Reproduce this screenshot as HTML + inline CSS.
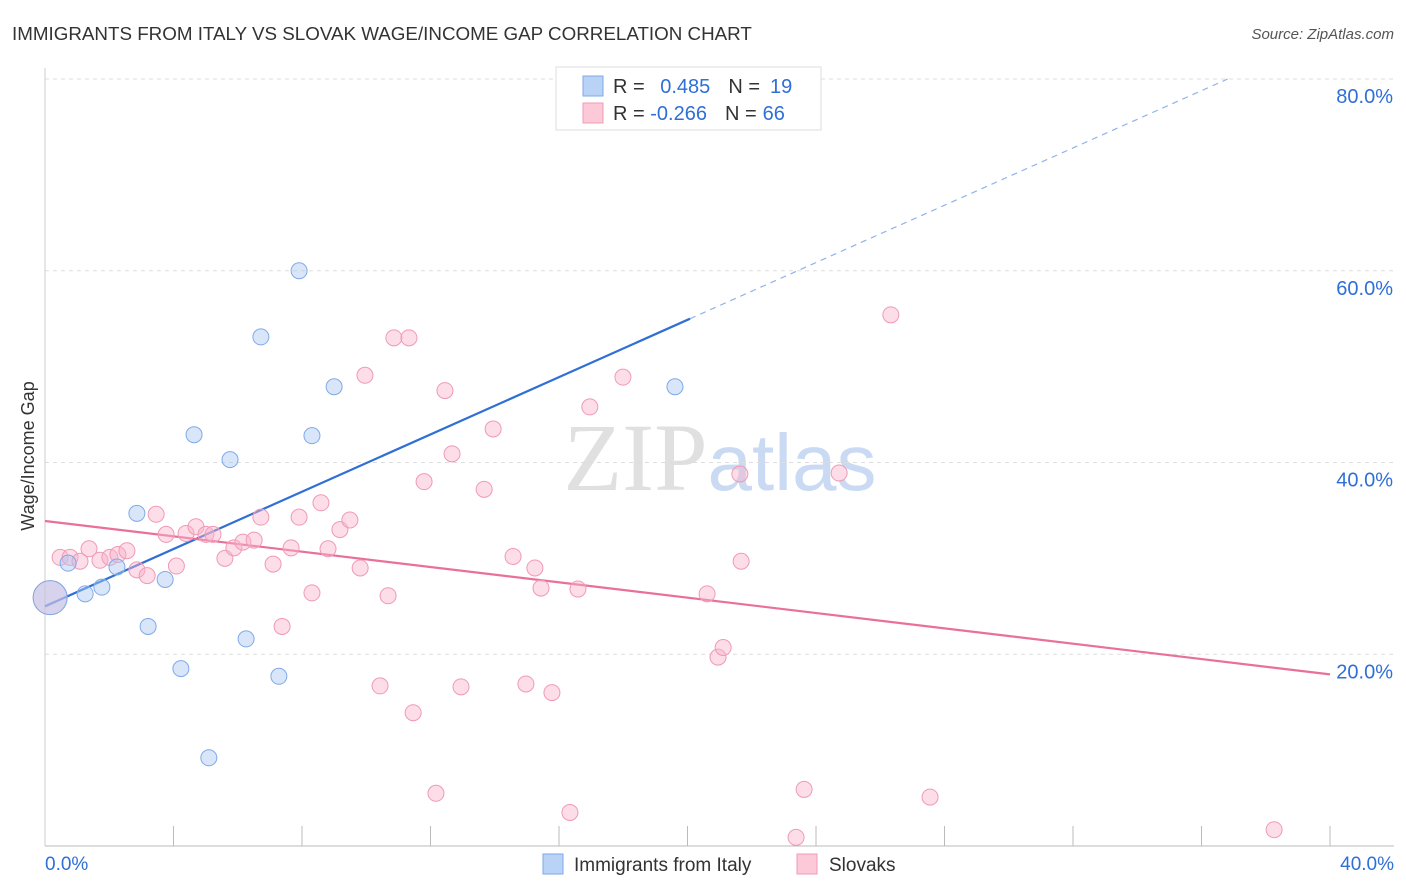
<!DOCTYPE html>
<html><head><meta charset="utf-8"><style>
body{margin:0;background:#fff;font-family:"Liberation Sans",sans-serif;}
svg{display:block}
</style></head><body>
<svg id="c" width="1406" height="892" xmlns="http://www.w3.org/2000/svg" font-family="Liberation Sans, sans-serif">
<text x="12" y="40" font-size="18.8" fill="#333">IMMIGRANTS FROM ITALY VS SLOVAK WAGE/INCOME GAP CORRELATION CHART</text>
<text x="1394" y="39" font-size="15" fill="#555" text-anchor="end" font-style="italic">Source: ZipAtlas.com</text>
<text x="720" y="490" font-size="96" text-anchor="middle"><tspan fill="#e0e0e0" font-family="Liberation Serif, serif">ZIP</tspan><tspan fill="#c9daf2" font-size="80">atlas</tspan></text>
<text transform="translate(34,456) rotate(-90)" font-size="18" fill="#333" text-anchor="middle">Wage/Income Gap</text>
<g id="grid"></g><g id="lines"></g><g id="pts"></g>
<g>
<rect x="556" y="67" width="265" height="63" fill="#fff" stroke="#ddd"/>
<rect x="583" y="76" width="20" height="20" fill="#b9d3f6" stroke="#7faae8"/>
<rect x="583" y="103" width="20" height="20" fill="#fbc9d8" stroke="#f09ab5"/>
<text x="613" y="93" font-size="20" fill="#333">R = <tspan fill="#2f6fd6" dx="10">0.485</tspan><tspan dx="18" fill="#333">N =</tspan><tspan dx="10" fill="#2f6fd6">19</tspan></text>
<text x="613" y="120" font-size="20" fill="#333">R = <tspan fill="#2f6fd6">-0.266</tspan><tspan dx="18" fill="#333">N =</tspan><tspan dx="6" fill="#2f6fd6">66</tspan></text>
</g>
<g>
<rect x="543" y="854" width="20" height="20" fill="#b9d3f6" stroke="#7faae8"/>
<text x="574" y="871" font-size="19" fill="#333">Immigrants from Italy</text>
<rect x="797" y="854" width="20" height="20" fill="#fbc9d8" stroke="#f09ab5"/>
<text x="829" y="871" font-size="19" fill="#333">Slovaks</text>
</g>
</svg>
<script>
const blueX=[0.16,0.72,1.25,1.77,2.24,2.86,3.21,3.74,4.23,4.64,5.10,5.76,6.26,6.72,7.28,7.91,8.31,9.00,19.61];
const blueY=[25.9,29.5,26.3,27.0,29.1,34.7,22.9,27.8,18.5,42.9,9.2,40.3,21.6,53.1,17.7,60.0,42.8,47.9,47.9];
const pinkX=[0.16,0.47,0.78,1.09,1.37,1.71,2.02,2.27,2.55,2.86,3.18,3.46,3.77,4.09,4.39,4.70,5.01,5.23,5.60,5.88,6.16,6.51,6.72,7.10,7.38,7.66,7.91,8.31,8.59,8.81,9.18,9.49,9.81,9.96,10.43,10.68,10.86,11.33,11.46,11.80,12.17,12.45,12.67,12.95,13.67,13.95,14.57,14.97,15.25,15.44,15.78,16.34,16.59,16.96,17.99,20.61,20.95,21.11,21.63,21.67,23.38,23.63,24.72,26.33,27.55,38.26];
const pinkY=[25.9,30.1,30.1,29.7,31.0,29.8,30.1,30.4,30.8,28.8,28.2,34.6,32.5,29.2,32.6,33.3,32.5,32.5,30.0,31.1,31.7,31.9,34.3,29.4,22.9,31.1,34.3,26.4,35.8,31.0,33.0,34.0,29.0,49.1,16.7,26.1,53.0,53.0,13.9,38.0,5.5,47.5,40.9,16.6,37.2,43.5,30.2,16.9,29.0,26.9,16.0,3.5,26.8,45.8,48.9,26.3,19.7,20.7,38.8,29.7,0.9,5.9,38.9,55.4,5.1,1.7];
const yTicks=[20,40,60,80];
const xTickLabels=["0.0%","40.0%"];
const blueTrend=[25.0,1.494]; // intercept, slope
const pinkTrend=[33.9,-0.40];
const NS="http://www.w3.org/2000/svg";
const X=v=>45+v*32.125, Y=v=>846-v*9.5875;
function mk(t,a,p){const e=document.createElementNS(NS,t);for(const k in a)e.setAttribute(k,a[k]);p.appendChild(e);return e;}
const g=document.getElementById('grid');
yTicks.forEach(t=>{
 const l=mk('line',{x1:45,x2:1394,y1:Y(t),y2:Y(t),stroke:'#ddd','stroke-dasharray':'4,4'},g);
 
 
 const tx=mk('text',{x:1393,y:Y(t)+24,'font-size':20,fill:'#2f6fd6','text-anchor':'end'},g);tx.textContent=t.toFixed(1)+'%';
 
 
});
const ax=mk('line',{x1:45,x2:1394,y1:846,y2:846,stroke:'#bbb'},g);


const ay=mk('line',{x1:45,x2:45,y1:68,y2:846,stroke:'#ccc'},g);


for(let i=1;i<=10;i++){const t=mk('line',{x1:X(i*4),x2:X(i*4),y1:826,y2:846,stroke:'#bbb'},g);
 
 }
[[0,'start',45],[40,'end',1394]].forEach((d,i)=>{const t=mk('text',{x:d[2],y:870,'font-size':19,fill:'#2f6fd6','text-anchor':d[1]},g);t.textContent=xTickLabels[i];
 
 });
const L=document.getElementById('lines');
const bEnd=20.08, bDash=Math.min(40,(80-blueTrend[0])/blueTrend[1]);
const b1=mk('line',{x1:X(0),y1:Y(blueTrend[0]),x2:X(bEnd),y2:Y(blueTrend[0]+blueTrend[1]*bEnd),stroke:'#2f6fd6','stroke-width':2.2},L);


const b2=mk('line',{x1:X(bEnd),y1:Y(blueTrend[0]+blueTrend[1]*bEnd),x2:X(bDash),y2:Y(blueTrend[0]+blueTrend[1]*bDash),stroke:'#8fb3ea','stroke-width':1.2,'stroke-dasharray':'6,5'},L);


const p1=mk('line',{x1:X(0),y1:Y(pinkTrend[0]),x2:X(40),y2:Y(pinkTrend[0]+pinkTrend[1]*40),stroke:'#e8709a','stroke-width':2.2},L);


const P=document.getElementById('pts');
pinkX.forEach((x,i)=>{const c=mk('circle',{cx:X(x),cy:Y(pinkY[i]),r:i==0?17:8,fill:'rgba(248,180,203,0.45)',stroke:'#f09ab5','stroke-width':1},P);
 
 });
blueX.forEach((x,i)=>{const c=mk('circle',{cx:X(x),cy:Y(blueY[i]),r:i==0?17:8,fill:'rgba(170,200,243,0.45)',stroke:'#7faae8','stroke-width':1},P);
 
 });
</script>
</body></html>
